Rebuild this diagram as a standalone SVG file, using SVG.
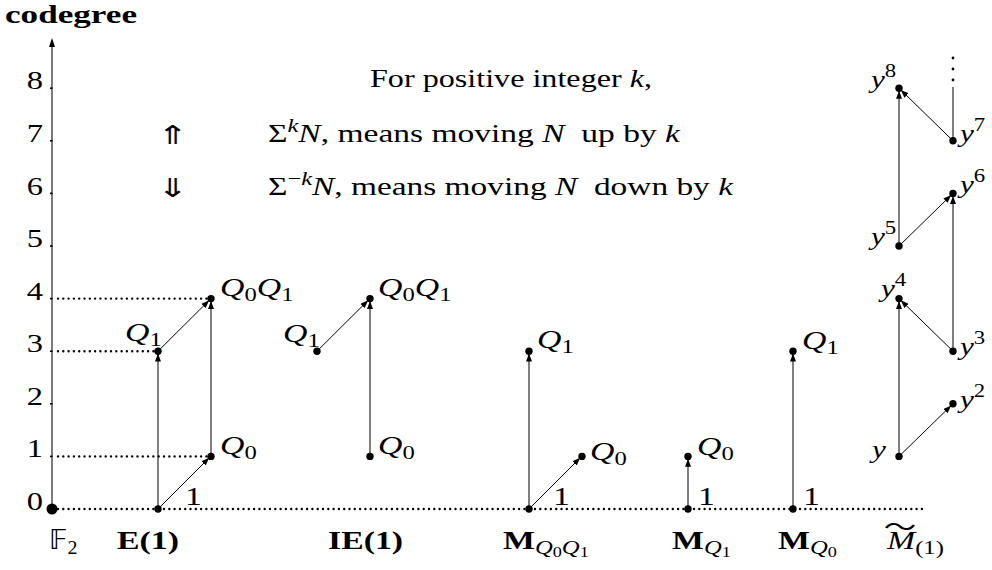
<svg xmlns="http://www.w3.org/2000/svg" width="992" height="570" viewBox="0 0 992 570">
<style>
.t{font-family:"Liberation Serif","Times New Roman","DejaVu Serif",serif;font-size:26px;fill:#000;white-space:pre}
.i{font-style:italic}
.u{font-style:normal}
.b{font-weight:bold}
.s{font-size:19px}
.ss{font-size:14px}
.n{font-size:25px}
.e{stroke:#000;stroke-width:1;fill:none;marker-end:url(#ah)}
.p{stroke:#000;stroke-width:1;fill:none}
.dt{stroke:#000;stroke-width:2.4;stroke-dasharray:0 5.3;stroke-linecap:round;fill:none}
.sym{font-family:"DejaVu Sans","Noto Sans",sans-serif}
</style>
<defs>
<marker id="ah" markerUnits="userSpaceOnUse" markerWidth="9" markerHeight="6" refX="8" refY="3" orient="auto">
<path d="M0,0 L8,3 L0,6 z" fill="#000"/>
</marker>
<circle id="pt" r="3.7" fill="#000"/>
</defs>
<rect width="992" height="570" fill="#fff"/>

<g id="axis">
<text class="t b" x="5" y="23" font-size="23" textLength="132" lengthAdjust="spacingAndGlyphs">codegree</text>
<line x1="52" y1="509" x2="52" y2="45" stroke="#333" stroke-width="1.3"/>
<path d="M52,38 L55,47 L49,47 z" fill="#000"/>
<g stroke="#000" stroke-width="1.6">
<line x1="50" y1="456.4" x2="52.5" y2="456.4"/>
<line x1="50" y1="403.8" x2="52.5" y2="403.8"/>
<line x1="50" y1="351.2" x2="52.5" y2="351.2"/>
<line x1="50" y1="298.6" x2="52.5" y2="298.6"/>
<line x1="50" y1="246" x2="52.5" y2="246"/>
<line x1="50" y1="193.4" x2="52.5" y2="193.4"/>
<line x1="50" y1="140.8" x2="52.5" y2="140.8"/>
<line x1="50" y1="88.2" x2="52.5" y2="88.2"/>
</g>
<g class="t n" text-anchor="end">
<text transform="translate(43 509.5) scale(1.3 1)">0</text>
<text transform="translate(43 457) scale(1.3 1)">1</text>
<text transform="translate(43 404.5) scale(1.3 1)">2</text>
<text transform="translate(43 352) scale(1.3 1)">3</text>
<text transform="translate(43 299.5) scale(1.3 1)">4</text>
<text transform="translate(43 247) scale(1.3 1)">5</text>
<text transform="translate(43 194.5) scale(1.3 1)">6</text>
<text transform="translate(43 141.5) scale(1.3 1)">7</text>
<text transform="translate(43 89) scale(1.3 1)">8</text>
</g>
</g>

<g id="guides">
<line class="dt" x1="58" y1="509" x2="922" y2="509"/>
<line class="dt" x1="58" y1="456.4" x2="207" y2="456.4"/>
<line class="dt" x1="58" y1="351.2" x2="154" y2="351.2"/>
<line class="dt" x1="58" y1="298.6" x2="207" y2="298.6"/>
</g>

<g id="legend">
<text class="t" x="370" y="87" textLength="282" lengthAdjust="spacingAndGlyphs">For positive integer <tspan class="i">k</tspan>,</text>
<text class="t sym" transform="translate(157 144) scale(1.45 1)" font-size="38">⇑</text>
<text class="t" x="268" y="142" textLength="412" lengthAdjust="spacingAndGlyphs">Σ<tspan class="s i" dy="-10">k</tspan><tspan class="i" dy="10">N</tspan>, means moving <tspan class="i">N</tspan>  up by <tspan class="i">k</tspan></text>
<text class="t sym" transform="translate(157 197) scale(1.45 1)" font-size="38">⇓</text>
<text class="t" x="268" y="195" textLength="465" lengthAdjust="spacingAndGlyphs">Σ<tspan class="s" dy="-10">−<tspan class="i">k</tspan></tspan><tspan class="i" dy="10">N</tspan>, means moving <tspan class="i">N</tspan>  down by <tspan class="i">k</tspan></text>
</g>

<g id="connectors">
<line class="e" x1="158" y1="509" x2="209.2" y2="457.8"/>
<line class="e" x1="158" y1="509" x2="158" y2="353.5"/>
<line class="e" x1="158" y1="351.2" x2="209.2" y2="300.3"/>
<line class="e" x1="211" y1="456.4" x2="211" y2="301"/>
<line class="e" x1="317" y1="351.2" x2="368.2" y2="300.3"/>
<line class="e" x1="370" y1="456.4" x2="370" y2="301"/>
<line class="e" x1="529" y1="509" x2="529" y2="353.5"/>
<line class="e" x1="529" y1="509" x2="580.2" y2="457.8"/>
<line class="e" x1="688" y1="509" x2="688" y2="458.8"/>
<line class="e" x1="793" y1="509" x2="793" y2="353.5"/>
<line class="e" x1="899" y1="456.4" x2="951.2" y2="405.5"/>
<line class="e" x1="899" y1="456.4" x2="899" y2="301.1"/>
<line class="e" x1="953" y1="351.2" x2="900.8" y2="300.3"/>
<line class="e" x1="953" y1="351.2" x2="953" y2="195.9"/>
<line class="e" x1="899" y1="246" x2="951.2" y2="195.1"/>
<line class="e" x1="899" y1="246" x2="899" y2="90.7"/>
<line class="e" x1="953" y1="140.8" x2="900.8" y2="89.9"/>
<line class="p" x1="953" y1="140.8" x2="953" y2="87"/>
<circle cx="953" cy="80" r="1.4" fill="#000"/>
<circle cx="953" cy="69" r="1.4" fill="#000"/>
<circle cx="953" cy="58" r="1.4" fill="#000"/>
</g>

<g id="node-F2">
<circle cx="52" cy="509" r="5.5" fill="#000"/>
<text class="t sym" transform="translate(49 549) scale(1.05 1)" font-size="24">𝔽<tspan class="s" font-family="Liberation Serif,serif" dy="5">2</tspan></text>
</g>

<g id="node-E1">
<use href="#pt" x="158" y="509"/>
<use href="#pt" x="211" y="456.4"/>
<use href="#pt" x="158" y="351.2"/>
<use href="#pt" x="211" y="298.6"/>
<text class="t" transform="translate(185 505) scale(1.3 1)">1</text>
<text class="t i" transform="translate(220 454) scale(1.3 1)">Q<tspan class="s u" dy="5">0</tspan></text>
<text class="t i" transform="translate(125 341) scale(1.3 1)">Q<tspan class="s u" dy="5">1</tspan></text>
<text class="t i" transform="translate(220 296) scale(1.3 1)">Q<tspan class="s u" dy="5">0</tspan><tspan dy="-5">Q</tspan><tspan class="s u" dy="5">1</tspan></text>
<text class="t b" transform="translate(117 549) scale(1.3 1)">E(1)</text>
</g>

<g id="node-IE1">
<use href="#pt" x="317" y="351.2"/>
<use href="#pt" x="370" y="298.6"/>
<use href="#pt" x="370" y="456.4"/>
<text class="t i" transform="translate(283 342) scale(1.3 1)">Q<tspan class="s u" dy="5">1</tspan></text>
<text class="t i" transform="translate(378 296) scale(1.3 1)">Q<tspan class="s u" dy="5">0</tspan><tspan dy="-5">Q</tspan><tspan class="s u" dy="5">1</tspan></text>
<text class="t i" transform="translate(378 454) scale(1.3 1)">Q<tspan class="s u" dy="5">0</tspan></text>
<text class="t b" transform="translate(328 549) scale(1.3 1)">IE(1)</text>
</g>

<g id="node-MQ0Q1">
<use href="#pt" x="529" y="509"/>
<use href="#pt" x="529" y="351.2"/>
<use href="#pt" x="582" y="456.4"/>
<text class="t i" transform="translate(537 348) scale(1.3 1)">Q<tspan class="s u" dy="5">1</tspan></text>
<text class="t i" transform="translate(590 460) scale(1.3 1)">Q<tspan class="s u" dy="5">0</tspan></text>
<text class="t" transform="translate(553 505) scale(1.3 1)">1</text>
<text class="t b" transform="translate(503 549) scale(1.3 1)">M<tspan class="s i" font-weight="normal" dy="5">Q</tspan><tspan class="ss" font-weight="normal" dy="3">0</tspan><tspan class="s i" font-weight="normal" dy="-3">Q</tspan><tspan class="ss" font-weight="normal" dy="3">1</tspan></text>
</g>

<g id="node-MQ1">
<use href="#pt" x="688" y="509"/>
<use href="#pt" x="688" y="456.4"/>
<text class="t i" transform="translate(697 455) scale(1.3 1)">Q<tspan class="s u" dy="5">0</tspan></text>
<text class="t" transform="translate(698 505) scale(1.3 1)">1</text>
<text class="t b" transform="translate(672 549) scale(1.3 1)">M<tspan class="s i" font-weight="normal" dy="5">Q</tspan><tspan class="ss" font-weight="normal" dy="3">1</tspan></text>
</g>

<g id="node-MQ0">
<use href="#pt" x="793" y="509"/>
<use href="#pt" x="793" y="351.2"/>
<text class="t i" transform="translate(802 349) scale(1.3 1)">Q<tspan class="s u" dy="5">1</tspan></text>
<text class="t" transform="translate(803 505) scale(1.3 1)">1</text>
<text class="t b" transform="translate(778 549) scale(1.3 1)">M<tspan class="s i" font-weight="normal" dy="5">Q</tspan><tspan class="ss" font-weight="normal" dy="3">0</tspan></text>
</g>

<g id="node-M1">
<use href="#pt" x="899" y="456.4"/>
<use href="#pt" x="953" y="403.8"/>
<use href="#pt" x="953" y="351.2"/>
<use href="#pt" x="899" y="298.6"/>
<use href="#pt" x="899" y="246"/>
<use href="#pt" x="953" y="193.4"/>
<use href="#pt" x="953" y="140.8"/>
<use href="#pt" x="899" y="88.2"/>
<text class="t i" transform="translate(872 458) scale(1.2 1)">y</text>
<text class="t i" transform="translate(960 408) scale(1.2 1)">y<tspan class="s u" dy="-11">2</tspan></text>
<text class="t i" transform="translate(960 355) scale(1.2 1)">y<tspan class="s u" dy="-11">3</tspan></text>
<text class="t i" transform="translate(881 297) scale(1.2 1)">y<tspan class="s u" dy="-11">4</tspan></text>
<text class="t i" transform="translate(871 245) scale(1.2 1)">y<tspan class="s u" dy="-11">5</tspan></text>
<text class="t i" transform="translate(960 193) scale(1.2 1)">y<tspan class="s u" dy="-11">6</tspan></text>
<text class="t i" transform="translate(960 142) scale(1.2 1)">y<tspan class="s u" dy="-11">7</tspan></text>
<text class="t i" transform="translate(871 88) scale(1.2 1)">y<tspan class="s u" dy="-11">8</tspan></text>
<text class="t i" transform="translate(887 549) scale(1.3 1)">M<tspan class="s u" dy="5">(1)</tspan><tspan class="u" x="-2.5" y="-13" font-size="25" font-family="Noto Sans CJK SC,sans-serif">〜</tspan></text>
</g>
</svg>
